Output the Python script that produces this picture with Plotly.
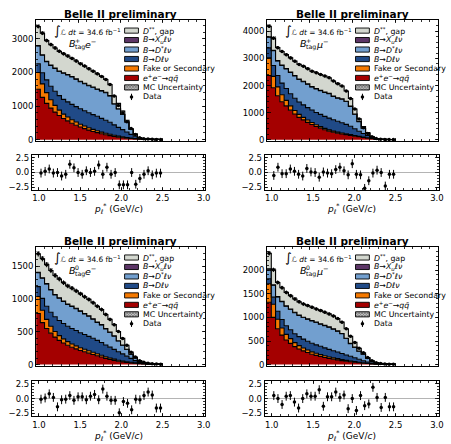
import numpy as np
import plotly.graph_objects as go

W, H = 451, 444

# ---------------- data ----------------
edges = [1.00, 1.05, 1.10, 1.15, 1.20, 1.25, 1.30, 1.35, 1.40, 1.45, 1.50, 1.55, 1.60, 1.65, 1.70,
         1.75, 1.80, 1.85, 1.90, 1.95, 2.00, 2.05, 2.10, 2.15, 2.20, 2.25, 2.30, 2.35, 2.40, 2.45, 2.50]

# B+ e
tl_qq = [1500, 1260, 1080, 940, 820, 720, 630, 560, 490, 430, 375, 330, 285, 245, 210, 175, 145, 120, 95, 75, 58, 44, 33, 24, 17, 12, 9, 6, 4, 3]
tl_fake = [500, 400, 320, 250, 200, 160, 130, 115, 105, 95, 85, 75, 68, 60, 55, 50, 45, 40, 35, 30, 25, 20, 15, 12, 8, 5, 4, 3, 2, 2]
tl_dlnu = [260, 330, 380, 400, 420, 430, 440, 450, 455, 460, 460, 455, 450, 440, 430, 410, 390, 360, 310, 260, 215, 165, 110, 65, 25, 6, 3, 2, 1, 1]
tl_dstar = [528, 528, 538, 618, 678, 718, 778, 803, 818, 813, 808, 809, 806, 814, 805, 815, 821, 781, 622, 548, 451, 296, 146, 56, 5, 1, 0, 0, 0, 0]
tl_xu = [12, 12, 12, 12, 12, 12, 12, 12, 12, 12, 12, 11, 11, 11, 10, 10, 9, 9, 8, 7, 6, 5, 4, 3, 2, 1, 1, 1, 0, 0]
tl_gap = [570, 640, 620, 610, 600, 590, 570, 550, 540, 530, 520, 510, 490, 470, 450, 420, 380, 330, 230, 160, 95, 50, 22, 10, 3, 1, 0, 0, 0, 0]
tl_unc = [70, 65, 60, 58, 56, 54, 52, 50, 49, 48, 46, 45, 43, 42, 40, 38, 37, 34, 28, 24, 20, 14, 9, 5, 3, 2, 2, 1, 1, 1]
tl_data = [3370, 3170, 2950, 2830, 2730, 2630, 2560, 2490, 2420, 2340, 2260, 2190, 2110, 2040, 1960, 1880, 1790, 1640, 1300, 1015, 792, 530, 330, 150, 55, 25, 17, 12, 8, 7]
tl_pull = [-0.1, 0.2, 0.6, -0.1, 0.0, -0.6, -0.3, 1.4, 0.8, 0.0, -0.3, 0.3, 0.0, 0.2, 1.3, -0.3, 0.9, -0.3, 0.0, -2.1, -2.1, -2.1, 0.0, -2.0, -1.0, -0.3, 0.3, -0.4, -0.1, -0.1]

# B+ mu
tr_qq = [2370, 1920, 1620, 1400, 1250, 1090, 950, 825, 730, 640, 560, 485, 425, 365, 315, 275, 240, 210, 185, 160, 130, 105, 80, 60, 40, 20, 10, 6, 4, 3]
tr_fake = [650, 420, 330, 260, 200, 160, 130, 110, 95, 85, 75, 65, 58, 52, 46, 42, 38, 34, 30, 26, 22, 18, 14, 10, 6, 4, 3, 2, 1, 1]
tr_dlnu = [370, 400, 420, 430, 440, 445, 450, 455, 460, 460, 460, 455, 450, 445, 435, 420, 400, 380, 350, 310, 250, 190, 135, 85, 40, 12, 2, 1, 1, 1]
tr_dstar = [395, 545, 535, 655, 725, 790, 825, 835, 860, 860, 850, 870, 872, 883, 899, 858, 857, 871, 843, 734, 540, 350, 190, 80, 18, 3, 0, 0, 0, 0]
tr_xu = [15, 15, 15, 15, 15, 15, 15, 15, 15, 15, 15, 15, 15, 15, 15, 15, 15, 15, 12, 10, 8, 6, 4, 2, 1, 0, 0, 0, 0, 0]
tr_gap = [390, 450, 480, 500, 510, 520, 530, 540, 550, 560, 570, 580, 590, 590, 580, 560, 520, 470, 380, 280, 180, 100, 57, 23, 5, 1, 0, 0, 0, 0]
tr_unc = [85, 77, 70, 67, 64, 62, 60, 57, 56, 54, 52, 51, 50, 48, 47, 45, 43, 41, 37, 31, 24, 16, 10, 5, 3, 2, 1, 1, 1, 1]
tr_data = [4190, 3750, 3400, 3260, 3140, 3020, 2900, 2780, 2710, 2620, 2530, 2470, 2410, 2350, 2290, 2170, 2070, 1980, 1800, 1520, 1130, 760, 440, 230, 110, 40, 15, 10, 7, 5]
tr_pull = [-0.5, 0.9, -0.2, -0.2, 0.6, 0.2, -0.3, -0.6, 0.7, 0.1, 0.0, -0.8, 0.1, -0.1, -0.2, 0.5, 0.9, 0.3, -0.4, 1.5, -0.3, -0.4, -2.7, -1.4, -0.1, 0.4, 0.0, -2.3, -0.3, -0.3]

# B0 e
bl_qq = [780, 640, 550, 480, 420, 370, 330, 295, 265, 240, 215, 195, 175, 155, 135, 115, 95, 80, 65, 52, 42, 34, 27, 20, 15, 10, 7, 5, 3, 2]
bl_fake = [260, 190, 140, 105, 85, 72, 63, 56, 50, 46, 42, 39, 36, 33, 30, 27, 24, 21, 18, 15, 12, 10, 8, 6, 4, 3, 2, 2, 1, 1]
bl_dlnu = [150, 180, 200, 215, 225, 230, 235, 235, 235, 235, 230, 225, 220, 215, 205, 195, 180, 165, 150, 130, 110, 85, 60, 35, 15, 6, 3, 2, 1, 1]
bl_dstar = [214, 309, 339, 339, 334, 342, 336, 333, 339, 333, 327, 315, 308, 291, 274, 267, 245, 224, 202, 164, 132, 103, 63, 41, 20, 14, 7, 3, 3, 1]
bl_xu = [6, 6, 6, 6, 6, 6, 6, 6, 6, 6, 6, 6, 6, 6, 6, 6, 6, 5, 5, 4, 4, 3, 2, 1, 1, 0, 0, 0, 0, 0]
bl_gap = [280, 290, 290, 290, 290, 285, 280, 275, 270, 265, 260, 255, 250, 245, 240, 230, 215, 195, 170, 140, 100, 60, 30, 12, 5, 2, 1, 0, 0, 0]
bl_unc = [40, 38, 36, 34, 32, 31, 30, 29, 28, 27, 26, 25, 24, 23, 22, 21, 19, 17, 15, 13, 10, 8, 5, 3, 2, 1, 1, 1, 1, 1]
bl_data = [1690, 1615, 1525, 1435, 1360, 1305, 1250, 1200, 1165, 1125, 1080, 1035, 995, 945, 890, 840, 765, 690, 610, 505, 400, 295, 190, 115, 60, 35, 20, 12, 8, 5]
bl_pull = [-0.1, 0.1, 0.8, 0.2, -1.4, -0.2, -0.1, 0.5, -0.3, 0.3, 0.3, -0.2, 0.4, 0.7, -0.2, 1.6, 0.4, -0.3, -0.3, -2.4, -0.5, -0.8, -1.9, -0.1, -0.2, 0.5, 1.1, 0.6, -1.6, -1.6]

# B0 mu
br_qq = [1320, 1000, 760, 625, 520, 450, 380, 330, 290, 255, 220, 195, 175, 150, 130, 115, 100, 85, 70, 60, 50, 40, 30, 22, 15, 10, 7, 5, 3, 2]
br_fake = [395, 280, 200, 150, 120, 100, 85, 72, 62, 55, 50, 45, 40, 36, 32, 29, 26, 23, 20, 17, 14, 11, 9, 7, 5, 4, 3, 2, 1, 1]
br_dlnu = [105, 150, 170, 180, 185, 190, 190, 190, 188, 185, 182, 178, 174, 168, 160, 150, 140, 128, 115, 100, 82, 62, 42, 25, 12, 5, 3, 2, 1, 1]
br_dstar = [202, 252, 302, 377, 412, 432, 447, 450, 457, 467, 475, 474, 468, 470, 470, 458, 441, 417, 349, 268, 220, 169, 137, 83, 42, 19, 11, 6, 5, 4]
br_xu = [8, 8, 8, 8, 8, 8, 8, 8, 8, 8, 8, 8, 8, 8, 8, 8, 8, 7, 6, 5, 4, 3, 2, 1, 1, 0, 0, 0, 0, 0]
br_gap = [330, 320, 300, 290, 285, 280, 280, 280, 280, 280, 280, 280, 280, 278, 275, 270, 260, 240, 200, 150, 100, 60, 30, 12, 5, 2, 1, 0, 0, 0]
br_unc = [55, 47, 41, 38, 36, 34, 33, 31, 30, 29, 28, 28, 27, 26, 25, 24, 23, 21, 18, 14, 11, 8, 6, 4, 2, 1, 1, 1, 1, 1]
br_data = [2360, 2010, 1740, 1630, 1530, 1460, 1390, 1330, 1285, 1250, 1215, 1180, 1145, 1110, 1075, 1030, 975, 900, 760, 600, 470, 345, 250, 150, 80, 40, 25, 15, 10, 8]
br_pull = [0.5, 0.0, -1.0, 0.4, 0.5, -0.6, -1.6, 0.0, 0.8, 0.4, 0.4, 1.5, -1.3, 0.3, 0.3, 1.1, 0.2, 0.6, -1.7, 0.0, -2.0, 0.5, -1.2, -0.9, 1.9, 0.2, -1.5, 0.2, -1.4, -1.4]

pull_err = [0.75] * 30

comp_names = ["qq", "fake", "dlnu", "dstar", "xu", "gap"]
comp_colors = ["#a40000", "#f57900", "#204a87", "#729fcf", "#5c3566", "#d3d7cf"]

panels = [
    dict(comps=[tl_qq, tl_fake, tl_dlnu, tl_dstar, tl_xu, tl_gap], unc=tl_unc, data=tl_data, pull=tl_pull,
         ymax=3570, yticks=[0, 1000, 2000, 3000], ydt=200, lep="<i>e</i><sup>−</sup>", sup="+"),
    dict(comps=[tr_qq, tr_fake, tr_dlnu, tr_dstar, tr_xu, tr_gap], unc=tr_unc, data=tr_data, pull=tr_pull,
         ymax=4430, yticks=[0, 1000, 2000, 3000, 4000], ydt=200, lep="<i>μ</i><sup>−</sup>", sup="+"),
    dict(comps=[bl_qq, bl_fake, bl_dlnu, bl_dstar, bl_xu, bl_gap], unc=bl_unc, data=bl_data, pull=bl_pull,
         ymax=1800, yticks=[0, 500, 1000, 1500], ydt=100, lep="<i>e</i><sup>−</sup>", sup="0"),
    dict(comps=[br_qq, br_fake, br_dlnu, br_dstar, br_xu, br_gap], unc=br_unc, data=br_data, pull=br_pull,
         ymax=2500, yticks=[0, 500, 1000, 1500, 2000], ydt=100, lep="<i>μ</i><sup>−</sup>", sup="0"),
]

# ---------------- layout geometry (pixels) ----------------
main_x = [(36.5, 207.3), (270.0, 443.3), (36.5, 207.3), (270.0, 443.3)]
ratio_x = [(32.3, 207.7), (267.7, 443.5), (32.3, 207.7), (267.7, 443.5)]
main_y = [(18, 141), (18, 141), (248, 369), (248, 369)]
ratio_y = [(155, 190.7), (155, 190.7), (384, 420), (384, 420)]

FONT = "DejaVu Sans"
fig = go.Figure()
centers = [(edges[i] + edges[i + 1]) / 2 for i in range(30)]


def ax_name(i, kind):
    return kind if i == 1 else f"{kind}{i}"


common = dict(showline=True, linecolor="black", linewidth=1, mirror="allticks", ticks="inside",
              ticklen=3.5, tickwidth=0.8, tickcolor="black", showgrid=False, zeroline=False,
              ticklabeloverflow="allow",
              tickfont=dict(family=FONT, size=8.5, color="black"))

layout_axes = {}
for p, P in enumerate(panels):
    im, ir = 2 * p + 1, 2 * p + 2
    xm, ym = ax_name(im, "x"), ax_name(im, "y")
    xr, yr = ax_name(ir, "x"), ax_name(ir, "y")

    cum = np.zeros(30)
    for k, (vals, col) in enumerate(zip(P["comps"], comp_colors)):
        cum = cum + np.array(vals, dtype=float)
        ys = list(cum) + [cum[-1]]
        fig.add_trace(go.Scatter(x=edges, y=ys, mode="lines", line=dict(shape="hv", color="black", width=1.1),
                                 fill="tozeroy" if k == 0 else "tonexty", fillcolor=col,
                                 xaxis=xm, yaxis=ym, showlegend=False, hoverinfo="skip"))
    unc = np.array(P["unc"], dtype=float)
    fig.add_trace(go.Bar(x=centers, y=2 * unc, base=cum - unc, width=0.05,
                         marker=dict(color="rgba(0,0,0,0)", line=dict(width=0),
                                     pattern=dict(shape="x", fgcolor="black", bgcolor="rgba(0,0,0,0)", size=3, solidity=0.5)),
                         xaxis=xm, yaxis=ym, showlegend=False, hoverinfo="skip"))
    d = np.array(P["data"], dtype=float)
    fig.add_trace(go.Scatter(x=centers, y=d, mode="markers", marker=dict(color="black", size=3.5),
                             error_y=dict(type="data", array=np.sqrt(d), color="black", thickness=1, width=0),
                             xaxis=xm, yaxis=ym, showlegend=False))
    fig.add_trace(go.Scatter(x=centers, y=P["pull"], mode="markers", marker=dict(color="black", size=3.5),
                             error_y=dict(type="data", array=pull_err, color="black", thickness=1, width=0),
                             xaxis=xr, yaxis=yr, showlegend=False))

    x0, x1 = main_x[p]
    y0, y1 = main_y[p]
    layout_axes[ax_name(im, "xaxis")] = dict(common, domain=[x0 / W, x1 / W], range=[1.0, 3.0], anchor=ym,
                                              tickvals=[1.0, 1.5, 2.0, 2.5, 3.0], showticklabels=False,
                                              minor=dict(ticks="inside", ticklen=2, tickcolor="black", dtick=0.1))
    layout_axes[ax_name(im, "yaxis")] = dict(common, domain=[1 - y1 / H, 1 - y0 / H],
                                              range=[-0.012 * P["ymax"], P["ymax"]], anchor=xm,
                                              tickvals=P["yticks"],
                                              minor=dict(ticks="inside", ticklen=2, tickcolor="black", dtick=P["ydt"]))
    x0, x1 = ratio_x[p]
    y0, y1 = ratio_y[p]
    layout_axes[ax_name(ir, "xaxis")] = dict(common, domain=[x0 / W, x1 / W], range=[0.915, 3.02], anchor=yr,
                                              tickvals=[1.0, 1.5, 2.0, 2.5, 3.0],
                                              ticktext=["1.0", "1.5", "2.0", "2.5", "3.0"],
                                              minor=dict(ticks="inside", ticklen=2, tickcolor="black", dtick=0.1))
    layout_axes[ax_name(ir, "yaxis")] = dict(common, domain=[1 - y1 / H, 1 - y0 / H], range=[-3.0, 3.0], anchor=xr,
                                              tickvals=[-2.5, 0.0, 2.5], ticktext=["−2.5", "0.0", "2.5"],
                                              zeroline=True, zerolinecolor="#b4b4b4", zerolinewidth=1.5,
                                              minor=dict(ticks="inside", ticklen=2, tickcolor="black", dtick=0.5))

layout_axes["xaxis9"] = dict(domain=[0, 1], range=[0, W], visible=False, anchor="y9", fixedrange=True)
layout_axes["yaxis9"] = dict(domain=[0, 1], range=[H, 0], visible=False, anchor="x9", fixedrange=True)

legend_labels = [
    "<i>D</i><sup>**</sup>, gap",
    "<i>B</i>→<i>X<sub>u</sub>ℓν</i>",
    "<i>B</i>→<i>D</i><sup>*</sup><i>ℓν</i>",
    "<i>B</i>→<i>Dℓν</i>",
    "Fake or Secondary",
    "<i>e</i><sup>+</sup><i>e</i><sup>−</sup>→<i>q</i><i>q̄</i>",
    "MC Uncertainty",
    "Data",
]
legend_fill = ["#d3d7cf", "#5c3566", "#729fcf", "#204a87", "#f57900", "#a40000"]

shapes, annots = [], []
box_x = [126.0, 359.5, 126.0, 359.5]


def txt(x, y, text, size, xanchor="left"):
    annots.append(dict(x=x, y=y, xref="x9", yref="y9", text=text, showarrow=False,
                       font=dict(family=FONT, size=size, color="black"), xanchor=xanchor, yanchor="middle"))


for p in range(4):
    top = main_y[p][0]
    bx = box_x[p]
    P = panels[p]
    txt((main_x[p][0] + main_x[p][1]) / 2, top - 6, "<b>Belle II preliminary</b>", 10.5, "center")
    txt(main_x[p][0] + 16, top + 10.5,
        "<span style='font-size:12.5px'>∫</span><i>ℒ</i> <i>dt</i> = 34.6 fb<sup>−1</sup>", 7.4)
    # B_tag label with stacked super/subscript
    bx0 = main_x[p][0] + 31
    by = top + 24.5
    txt(bx0, by, "<i>B</i>", 9.5)
    txt(bx0 + 6.3, by - 3.3, P["sup"], 6.2)
    txt(bx0 + 6.3, by + 3.0, "tag", 6.2)
    txt(bx0 + 16.5, by, P["lep"], 9.5)
    for k in range(8):
        yc = top + 11 + 9.6 * k
        if k < 6:
            shapes.append(dict(type="rect", xref="x9", yref="y9", x0=bx, x1=bx + 14, y0=yc - 2.6, y1=yc + 2.6,
                               fillcolor=legend_fill[k], line=dict(color="black", width=0.9)))
        elif k == 6:
            fig.add_trace(go.Scatter(x=[bx, bx + 14, bx + 14, bx, bx], y=[yc - 2.6, yc - 2.6, yc + 2.6, yc + 2.6, yc - 2.6],
                                     mode="lines", fill="toself", fillcolor="white",
                                     fillpattern=dict(shape="x", fgcolor="black", bgcolor="white", size=2, solidity=0.8),
                                     line=dict(color="black", width=0.9), xaxis="x9", yaxis="y9",
                                     showlegend=False, hoverinfo="skip"))
        else:
            fig.add_trace(go.Scatter(x=[bx + 7], y=[yc], mode="markers", marker=dict(color="black", size=3.5),
                                     error_y=dict(type="constant", value=3.2, color="black", thickness=1, width=0),
                                     xaxis="x9", yaxis="y9", showlegend=False, hoverinfo="skip"))
        txt(bx + 17, yc, legend_labels[k], 7.8)
    rx = (ratio_x[p][0] + ratio_x[p][1]) / 2
    txt(rx, ratio_y[p][1] + 19, "<i>p</i><sub><i>ℓ</i></sub><sup>*</sup> (GeV/<i>c</i>)", 9, "center")

fig.update_layout(width=W, height=H, margin=dict(l=0, r=0, t=0, b=0), paper_bgcolor="white",
                  plot_bgcolor="rgba(0,0,0,0)", showlegend=False, shapes=shapes, annotations=annots,
                  bargap=0, hovermode=False, **layout_axes)
fig.write_html("out.html", config={"displayModeBar": False, "staticPlot": True},
               post_script="document.body.style.margin='0';document.body.style.overflow='hidden';")
